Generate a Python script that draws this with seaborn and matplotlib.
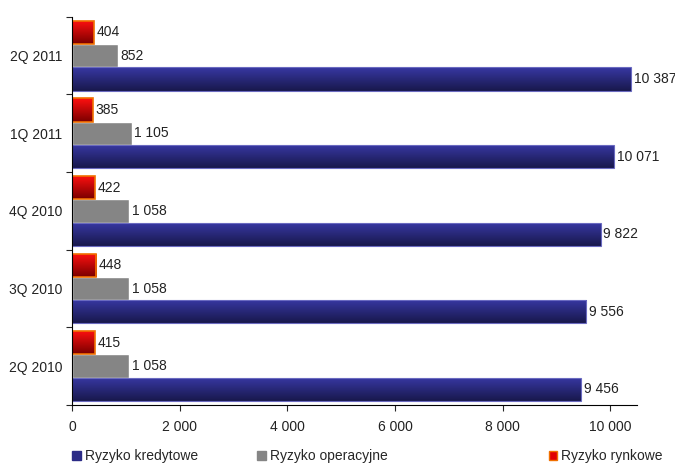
import pandas as pd
import numpy as np
import matplotlib
matplotlib.use("Agg")
import matplotlib.pyplot as plt
from matplotlib.patches import Patch
from matplotlib.colors import to_rgb
import seaborn as sns

okresy = ["2Q 2011", "1Q 2011", "4Q 2010", "3Q 2010", "2Q 2010"]
kredytowe = [10387, 10071, 9822, 9556, 9456]
operacyjne = [852, 1105, 1058, 1058, 1058]
rynkowe = [404, 385, 422, 448, 415]

serie = ["Ryzyko rynkowe", "Ryzyko operacyjne", "Ryzyko kredytowe"]
kolory = {"Ryzyko rynkowe": "#e00000", "Ryzyko operacyjne": "#858585", "Ryzyko kredytowe": "#2b2b86"}

df = pd.DataFrame({
    "okres": okresy * 3,
    "wartosc": rynkowe + operacyjne + kredytowe,
    "seria": [serie[0]] * 5 + [serie[1]] * 5 + [serie[2]] * 5,
})

sns.set_style("white")
plt.rcParams['font.family'] = ['Liberation Sans', 'DejaVu Sans']
FS = 10
TXT = "#222222"

fig = plt.figure(figsize=(6.75, 4.66), dpi=100)
ax = fig.add_axes([0.107, 0.131, 0.837, 0.833])

sns.barplot(data=df, x="wartosc", y="okres", hue="seria", order=okresy,
            hue_order=serie, palette=kolory, width=0.9, orient="h",
            saturation=1, ax=ax, legend=False)

def fmt(v):
    return f"{int(v):,}".replace(",", " ")

# pionowe gradienty jak w oryginale
gradienty = {
    "#e00000": ("#ff1010", "#7a0000"),
    "#2b2b86": ("#3838a4", "#18184c"),
}

for cont in ax.containers:
    for bar in cont:
        c = bar.get_facecolor()
        for key, (top, bot) in gradienty.items():
            if np.allclose(c[:3], to_rgb(key), atol=0.01):
                t = np.linspace(0, 1, 64)[:, None]
                img = (1 - t) * np.array(to_rgb(top)) + t * np.array(to_rgb(bot))
                img = img[:, None, :]
                y0 = bar.get_y()
                y1 = y0 + bar.get_height()
                im = ax.imshow(img, extent=(0, bar.get_width(), y1, y0),
                               origin="upper", aspect="auto", zorder=bar.get_zorder() + 0.1)
                im.set_clip_path(bar)
                if key == "#e00000":
                    bar.set_edgecolor("#f07000")
                    bar.set_linewidth(1.2)
                else:
                    bar.set_edgecolor("#6a6ac0")
                    bar.set_linewidth(0.8)
                bar.set_zorder(bar.get_zorder() + 0.2)
                bar.set_facecolor("none")
    ax.bar_label(cont, labels=[fmt(b.get_width()) for b in cont], padding=2,
                 fontsize=FS, color=TXT)

ax.set_xlim(0, 10500)
ax.set_ylim(4.5, -0.5)
ax.set_xticks([0, 2000, 4000, 6000, 8000, 10000])
ax.set_xticklabels([fmt(t) for t in [0, 2000, 4000, 6000, 8000, 10000]], fontsize=FS, color=TXT)
ax.set_yticks(range(5))
ax.set_yticklabels(okresy, fontsize=FS, color=TXT)
ax.set_yticks(np.arange(-0.5, 5, 1), minor=True)
ax.tick_params(axis="y", which="major", length=0, pad=7)
ax.tick_params(axis="y", which="minor", length=4, width=0.8, direction="out", left=True)
ax.tick_params(axis="x", length=4, width=0.8, direction="out", bottom=True, pad=7)
ax.set_xlabel("")
ax.set_ylabel("")
for s in ["top", "right"]:
    ax.spines[s].set_visible(False)
for s in ["left", "bottom"]:
    ax.spines[s].set_color("#000000")
    ax.spines[s].set_linewidth(0.8)

wpisy = [
    (Patch(facecolor="#2b2b86", edgecolor="#2b2b86"), "Ryzyko kredytowe", 0.103),
    (Patch(facecolor="#858585", edgecolor="#858585"), "Ryzyko operacyjne", 0.377),
    (Patch(facecolor="#e00000", edgecolor="#f07000"), "Ryzyko rynkowe", 0.809),
]
for h, lab, xpos in wpisy:
    fig.legend([h], [lab], loc="lower left", bbox_to_anchor=(xpos, 0.0),
               frameon=False, fontsize=FS, handlelength=0.6, handleheight=0.6,
               handletextpad=0.3, borderaxespad=0.1, borderpad=0.1)

fig.savefig("out.png", dpi=100)
